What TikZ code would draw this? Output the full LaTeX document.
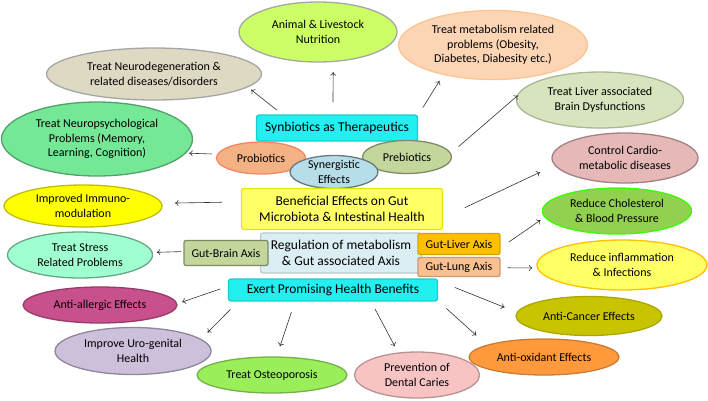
\documentclass[tikz,border=0pt]{standalone}
\usepackage{fontspec}
\setmainfont{Carlito}
\usepackage{tikz}
\usetikzlibrary{shapes.geometric,arrows.meta}

\definecolor{limefill}{HTML}{CCFF66}
\definecolor{beigefill}{HTML}{DDD9C3}
\definecolor{mintfill}{HTML}{74E896}
\definecolor{peachfill}{HTML}{FCD5B5}
\definecolor{sagefill}{HTML}{D7E4BD}
\definecolor{rosefill}{HTML}{E6B9B8}
\definecolor{grassfill}{HTML}{92D050}
\definecolor{lemonfill}{HTML}{FFFF66}
\definecolor{olivefill}{HTML}{C8C400}
\definecolor{tangfill}{HTML}{FF9A3C}
\definecolor{blushfill}{HTML}{F7C3C3}
\definecolor{leaffill}{HTML}{99EE5A}
\definecolor{lilacfill}{HTML}{CCC0DA}
\definecolor{plumfill}{HTML}{C8508C}
\definecolor{aquafill}{HTML}{A0FFD0}
\definecolor{yellowfill}{HTML}{FFFF00}
\definecolor{cyanfill}{HTML}{22F0F0}
\definecolor{apricotfill}{HTML}{F4B183}
\definecolor{mossfill}{HTML}{C3D69B}
\definecolor{skyfill}{HTML}{B7DEE8}
\definecolor{icefill}{HTML}{DBEEF4}
\definecolor{amberfill}{HTML}{FFC000}
\definecolor{salmonfill}{HTML}{FAC090}

\begin{document}
\begin{tikzpicture}[
  x=1pt, y=-1pt,
  bubble/.style={
    ellipse, draw, line width=1.3pt,
    inner sep=0pt, align=center,
    font=\fontsize{12}{14.5}\selectfont
  },
  panel/.style={
    rectangle, draw, line width=1.3pt, rounded corners=2.5pt,
    inner sep=0pt, align=center,
    font=\fontsize{13.5}{16}\selectfont
  },
  tag/.style={
    rectangle, draw, line width=1.3pt, rounded corners=2pt,
    inner sep=0pt, align=center,
    font=\fontsize{12}{14.5}\selectfont
  },
  arr/.style={-{To[length=3.5pt,width=6pt]}, black!80, line width=0.6pt} % frecce sottili
]
\useasboundingbox (0,0) rectangle (708,400);

% ellissi esterne
\node[bubble, fill=limefill, draw=black!35, minimum width=158pt, minimum height=60pt] (animal) at (318,32) {Animal \& Livestock\\ Nutrition};
\node[bubble, fill=beigefill, draw=black!35, minimum width=215pt, minimum height=52pt] (neuro) at (154,74) {Treat Neurodegeneration \&\\ related diseases/disorders};
\node[bubble, fill=mintfill, draw=mintfill!70!black, minimum width=191pt, minimum height=74pt] (psych) at (97,139) {Treat Neuropsychological\\ Problems (Memory,\\ Learning, Cognition)};
\node[bubble, fill=peachfill, draw=peachfill!80!orange, minimum width=189pt, minimum height=69pt] (metab) at (493,45) {Treat metabolism related\\ problems (Obesity,\\ Diabetes, Diabesity etc.)};
\node[bubble, fill=sagefill, draw=sagefill!80!black, minimum width=167pt, minimum height=56pt] (liver) at (600,100) {Treat Liver associated\\ Brain Dysfunctions};
\node[bubble, fill=rosefill, draw=rosefill!70!black, minimum width=146pt, minimum height=50pt] (cardio) at (625,158) {Control Cardio-\\ metabolic diseases};
\node[bubble, fill=grassfill, draw=green!70!lime, minimum width=149pt, minimum height=46pt] (chol) at (617,211) {Reduce Cholesterol\\ \& Blood Pressure};
\node[bubble, fill=lemonfill, draw=amberfill, minimum width=170pt, minimum height=50pt] (inflam) at (622,265) {Reduce inflammation\\ \& Infections};
\node[bubble, fill=olivefill, draw=olivefill!85!black, minimum width=146pt, minimum height=39pt] (cancer) at (589,316) {Anti-Cancer Effects};
\node[bubble, fill=tangfill, draw=tangfill!80!black, minimum width=150pt, minimum height=36pt] (oxid) at (544,357) {Anti-oxidant Effects};
\node[bubble, fill=blushfill, draw=blushfill!75!black, minimum width=125pt, minimum height=46pt] (caries) at (417,375) {Prevention of\\ Dental Caries};
\node[bubble, fill=leaffill, draw=leaffill!75!black, minimum width=150pt, minimum height=36pt] (osteo) at (272,375) {Treat Osteoporosis};
\node[bubble, fill=lilacfill, draw=lilacfill!70!black, minimum width=156pt, minimum height=47pt] (uro) at (133,351) {Improve Uro-genital\\ Health};
\node[bubble, fill=plumfill, draw=plumfill!75!black, minimum width=154pt, minimum height=36pt] (allergy) at (100,305) {Anti-allergic Effects};
\node[bubble, fill=aquafill, draw=aquafill!65!black, minimum width=145pt, minimum height=46pt] (stress) at (80,255) {Treat Stress\\ Related Problems};
\node[bubble, fill=yellowfill, draw=yellowfill!75!black, minimum width=158pt, minimum height=42pt] (immuno) at (83,206) {Improved Immuno-\\ modulation};

% blocco centrale
\node[panel, fill=cyanfill, draw=cyanfill!85!black, minimum width=161pt, minimum height=26pt] (syn) at (337,128) {Synbiotics as Therapeutics};
\node[bubble, fill=apricotfill, draw=apricotfill!75!red, minimum width=89pt, minimum height=32pt] (pro) at (261,158) {Probiotics};
\node[bubble, fill=mossfill, draw=mossfill!65!black, minimum width=89pt, minimum height=33pt] (pre) at (407,157) {Prebiotics};
\node[bubble, fill=skyfill, draw=skyfill!55!black, minimum width=88pt, minimum height=33pt] (synerg) at (334,172) {Synergistic\\ Effects};
\node[panel, fill=lemonfill, draw=yellowfill!90!black, minimum width=201pt, minimum height=41pt] (gut) at (342,209) {Beneficial Effects on Gut\\ Microbiota \& Intestinal Health};
\node[panel, fill=icefill, draw=icefill!85!black, minimum width=161pt, minimum height=40pt] (axis) at (341,253) {Regulation of metabolism\\ \& Gut associated Axis};
\node[tag, fill=mossfill, draw=mossfill!65!black, minimum width=84pt, minimum height=25pt] (brain) at (226,253) {Gut-Brain Axis};
\node[tag, fill=amberfill, draw=amberfill!85!black, minimum width=82pt, minimum height=21pt] (livax) at (459,244) {Gut-Liver Axis};
\node[tag, fill=salmonfill, draw=salmonfill!80!black, minimum width=82pt, minimum height=19pt] (lung) at (459,267) {Gut-Lung Axis};
\node[panel, fill=cyanfill, draw=cyanfill!85!black, minimum width=209pt, minimum height=22pt] (benef) at (333,290) {Exert Promising Health Benefits};

% frecce
\draw[arr, shorten <=7pt, shorten >=4pt] (syn.166.9) -- (neuro.-8.3);
\draw[arr, shorten <=12pt, shorten >=10pt] (syn.107) -- (animal.-63);
\draw[arr, shorten <=9pt, shorten >=7pt] (syn.9.9) -- (metab.-149.3);
\draw[arr, shorten <=5pt, shorten >=3pt] (pro.175) -- (psych.-9.4);
\draw[arr, shorten <=10pt, shorten >=19pt] (pre.5) -- (liver.166.8);
\draw[arr, shorten <=24pt, shorten >=16pt] (gut.-5.65) -- (cardio.186.9);
\draw[arr, shorten <=19pt, shorten >=13pt] (gut.176) -- (immuno.2.95);
\draw[arr, shorten <=2pt, shorten >=4pt] (brain.178.6) -- (stress.2.4);
\draw[arr, shorten <=10pt, shorten >=5pt] (livax.-5.2) -- (chol.185.9);
\draw[arr, shorten <=7pt, shorten >=4.5pt] (lung.-1.4) -- (inflam.182);
\draw[arr, shorten <=8pt, shorten >=5pt] (benef.178.2) -- (allergy.1.95);
\draw[arr, shorten <=11pt, shorten >=9pt] (benef.187.3) -- (uro.10.35);
\draw[arr, shorten <=11pt, shorten >=10.5pt] (benef.197) -- (osteo.76.6);
\draw[arr, shorten <=8pt, shorten >=7pt] (benef.-17) -- (caries.130.3);
\draw[arr, shorten <=11pt, shorten >=14pt] (benef.-6.6) -- (oxid.168.4);
\draw[arr, shorten <=18pt, shorten >=13pt] (benef.5) -- (cancer.177.6);
\end{tikzpicture}
\end{document}
